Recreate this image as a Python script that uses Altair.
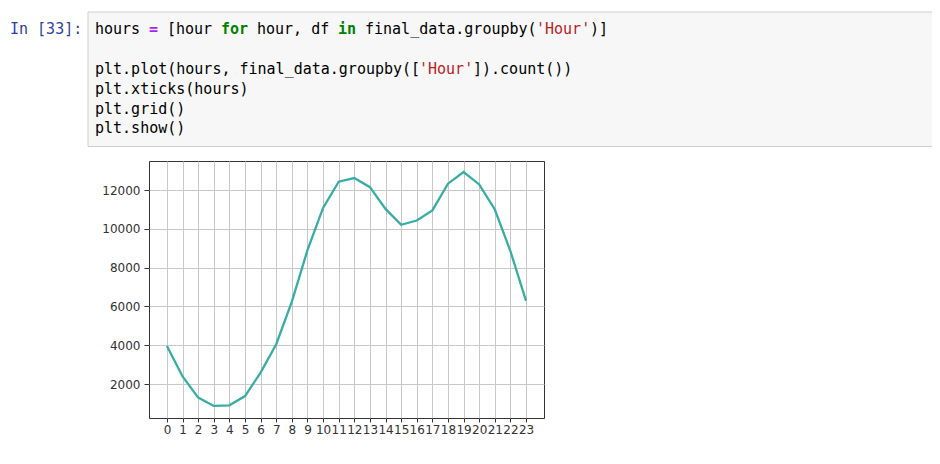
import altair as alt
import pandas as pd

# ---- chart data ----
hours = list(range(24))
counts = [3960, 2390, 1300, 870, 900, 1380, 2590, 4050, 6250, 8900, 11080, 12430,
          12620, 12150, 11030, 10210, 10430, 10950, 12330, 12930, 12290, 11000, 8850, 6290]
y_ticks = [2000, 4000, 6000, 8000, 10000, 12000]

# ---- notebook cell text ----
prompt_text = "In [33]:"
code_lines = [
    [("hours ", "n"), ("=", "op"), (" [hour ", "n"), ("for", "kw"), (" hour, df ", "n"),
     ("in", "kw"), (" final_data.groupby(", "n"), ("'Hour'", "str"), (")]", "n")],
    [],
    [("plt.plot(hours, final_data.groupby([", "n"), ("'Hour'", "str"), ("]).count())", "n")],
    [("plt.xticks(hours)", "n")],
    [("plt.grid()", "n")],
    [("plt.show()", "n")],
]
kind_color = {"n": "#000000", "op": "#AA22FF", "kw": "#008000", "str": "#BA2121"}
kind_bold = {"n": False, "op": True, "kw": True, "str": False}

CHAR_W = 9.0
X0 = -54.0      # column 0 relative to plot origin
Y0 = -126.7     # baseline of first code line
LINE_H = 19.8

rows = []
for li, segs in enumerate(code_lines):
    col = 0
    for txt, kind in segs:
        stripped = txt.lstrip(" ")
        lead = len(txt) - len(stripped)
        core = stripped.rstrip(" ")
        if core:
            rows.append({"text": core, "px": X0 + CHAR_W * (col + lead), "py": Y0 + LINE_H * li,
                         "color": kind_color[kind], "bold": kind_bold[kind]})
        col += len(txt)
code_df = pd.DataFrame(rows)

line_df = pd.DataFrame({"hour": hours, "count": counts})

FONT_MONO = "DejaVu Sans Mono"

box = alt.Chart(alt.Data(values=[{}])).mark_rect(
    fill="#f7f7f7", stroke="#cfcfcf", strokeWidth=1
).encode(x=alt.value(-61), x2=alt.value(790), y=alt.value(-149), y2=alt.value(-14.5))

prompt = alt.Chart(alt.Data(values=[{}])).mark_text(
    text=prompt_text, font=FONT_MONO, fontSize=15, color="#303F9F",
    align="left", baseline="alphabetic"
).encode(x=alt.value(-139), y=alt.value(-126.7))

def code_layer(bold):
    return alt.Chart(code_df[code_df["bold"] == bold]).mark_text(
        font=FONT_MONO, fontSize=15, align="left", baseline="alphabetic",
        fontWeight="bold" if bold else "normal"
    ).encode(
        x=alt.X("px:Q", scale=None),
        y=alt.Y("py:Q", scale=None),
        text="text:N",
        color=alt.Color("color:N", scale=None),
    )

line = alt.Chart(line_df).mark_line(color="#38ada6", strokeWidth=2.3).encode(
    x=alt.X("hour:Q", scale=alt.Scale(domain=[-1.15, 24.15], nice=False, zero=False),
            axis=alt.Axis(values=hours, title=None, grid=True, domain=False, format="d",
                          labelFont="DejaVu Sans", labelFontSize=12, labelColor="#333333",
                          tickColor="#333333", tickSize=4, labelPadding=2,
                          gridColor="#c8c8c8", gridWidth=1, labelFlush=False,
                          labelOverlap=False)),
    y=alt.Y("count:Q", scale=alt.Scale(domain=[248, 13500], nice=False, zero=False),
            axis=alt.Axis(values=y_ticks, title=None, grid=True, domain=False, format="d",
                          labelFont="DejaVu Sans", labelFontSize=12, labelColor="#333333",
                          tickColor="#333333", tickSize=5, labelPadding=4,
                          gridColor="#c8c8c8", gridWidth=1, labelFlush=False,
                          labelOverlap=False)),
)

chart = alt.layer(box, prompt, code_layer(False), code_layer(True), line).resolve_scale(
    x="independent", y="independent", color="independent"
).properties(
    width=395, height=257,
    autosize=alt.AutoSizeParams(type="none"),
    padding={"left": 141, "top": 153, "right": 388, "bottom": 30},
    background="white",
).configure_view(stroke="#333333", strokeWidth=1)

chart.save("out.html", embed_options={"renderer": "svg", "actions": False})
